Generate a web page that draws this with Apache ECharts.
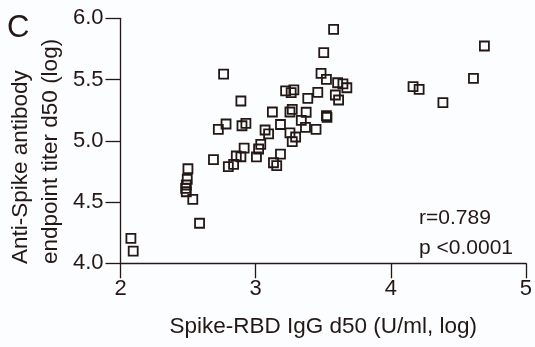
<!DOCTYPE html>
<html>
<head>
<meta charset="utf-8">
<script src="https://cdn.jsdelivr.net/npm/echarts@6/dist/echarts.min.js"></script>
<style>
html,body{margin:0;padding:0;background:#fcfdfe;}
#chart{width:535px;height:347px;}
</style>
</head>
<body>
<div id="chart"></div>
<script>
// Spike-RBD IgG d50 (log) values
const rbdIgG = [2.077,2.094,2.499,2.494,2.487,2.482,2.487,2.535,2.585,2.688,
  2.763,2.891,2.781,2.724,2.899,2.928,3.124,3.222,3.263,3.283,
  3.271,3.254,3.184,3.070,3.096,3.254,3.296,3.271,3.338,3.038,
  3.022,3.006,2.915,2.891,2.857,2.837,2.798,3.184,3.132,3.156,
  3.577,3.504,4.693,4.612,3.484,3.524,3.607,3.646,3.675,4.165,
  4.210,4.386,3.460,3.386,3.590,3.614,3.374,3.524,3.528,3.369,3.447];
// Anti-Spike antibody endpoint titer d50 (log) values
const spikeTiter = [4.204,4.100,4.772,4.686,4.639,4.612,4.584,4.522,4.327,4.846,
  5.545,5.325,5.137,5.094,5.123,5.143,5.235,5.407,5.393,5.415,
  5.257,5.235,5.133,5.088,5.056,5.065,5.031,4.993,5.167,4.971,
  4.933,4.868,4.941,4.870,4.876,4.808,4.789,4.892,4.821,4.798,
  5.910,5.719,5.774,5.510,5.551,5.502,5.474,5.464,5.433,5.442,
  5.420,5.311,5.396,5.347,5.374,5.333,5.233,5.205,5.192,5.110,5.094];
const xTicks = [2, 3, 4, 5];
const yTicks = [4.0, 4.5, 5.0, 5.5, 6.0];
const panelLabel = 'C';
const xTitle = 'Spike-RBD IgG d50 (U/ml, log)';
const yTitleLines = ['Anti-Spike antibody', 'endpoint titer d50 (log)'];
const statLines = ['r=0.789', 'p <0.0001'];

const ink = '#231815';
const fontFam = '"Liberation Sans", Arial, Helvetica, sans-serif';
const points = rbdIgG.map((x, i) => [x, spikeTiter[i]]);

const chart = echarts.init(document.getElementById('chart'), null, {renderer: 'canvas'});
chart.setOption({
  backgroundColor: '#fcfdfe',
  animation: false,
  grid: {left: 120.5, right: 6.7, top: 18.3, bottom: 83.7, containLabel: false},
  xAxis: {
    type: 'value', min: xTicks[0], max: xTicks[xTicks.length - 1], interval: 1,
    name: xTitle, nameLocation: 'middle', nameGap: 52,
    nameTextStyle: {color: ink, fontSize: 22.5, fontFamily: fontFam},
    axisLine: {show: true, onZero: false, lineStyle: {color: ink, width: 1.3}},
    axisTick: {show: true, length: 15, lineStyle: {color: ink, width: 1.3}},
    axisLabel: {color: ink, fontSize: 22, fontFamily: fontFam, margin: 15},
    splitLine: {show: false}
  },
  yAxis: {
    type: 'value', min: yTicks[0], max: yTicks[yTicks.length - 1], interval: 0.5,
    axisLine: {show: true, onZero: false, lineStyle: {color: ink, width: 1.3}},
    axisTick: {show: true, length: 15, lineStyle: {color: ink, width: 1.3}},
    axisLabel: {color: ink, fontSize: 22, fontFamily: fontFam, margin: 17,
      formatter: v => v.toFixed(1)},
    splitLine: {show: false}
  },
  series: [{
    type: 'scatter',
    data: points,
    symbol: 'rect',
    symbolSize: 9,
    itemStyle: {color: 'rgba(0,0,0,0)', borderColor: ink, borderWidth: 1.8, opacity: 1},
    emphasis: {disabled: true}
  }],
  graphic: [
    {type: 'text', x: 7, y: 28, style: {text: panelLabel, font: '31px ' + fontFam, fill: ink,
      align: 'left', verticalAlign: 'middle'}},
    {type: 'text', x: 36, y: 264, rotation: Math.PI / 2,
      style: {text: yTitleLines.join('\n'), font: '22.5px ' + fontFam, fill: ink,
        align: 'left', verticalAlign: 'middle', lineHeight: 30}},
    {type: 'text', x: 419, y: 233.5, style: {text: statLines.join('\n'), font: '21px ' + fontFam,
      fill: ink, align: 'left', verticalAlign: 'middle', lineHeight: 30}}
  ]
});
</script>
</body>
</html>
